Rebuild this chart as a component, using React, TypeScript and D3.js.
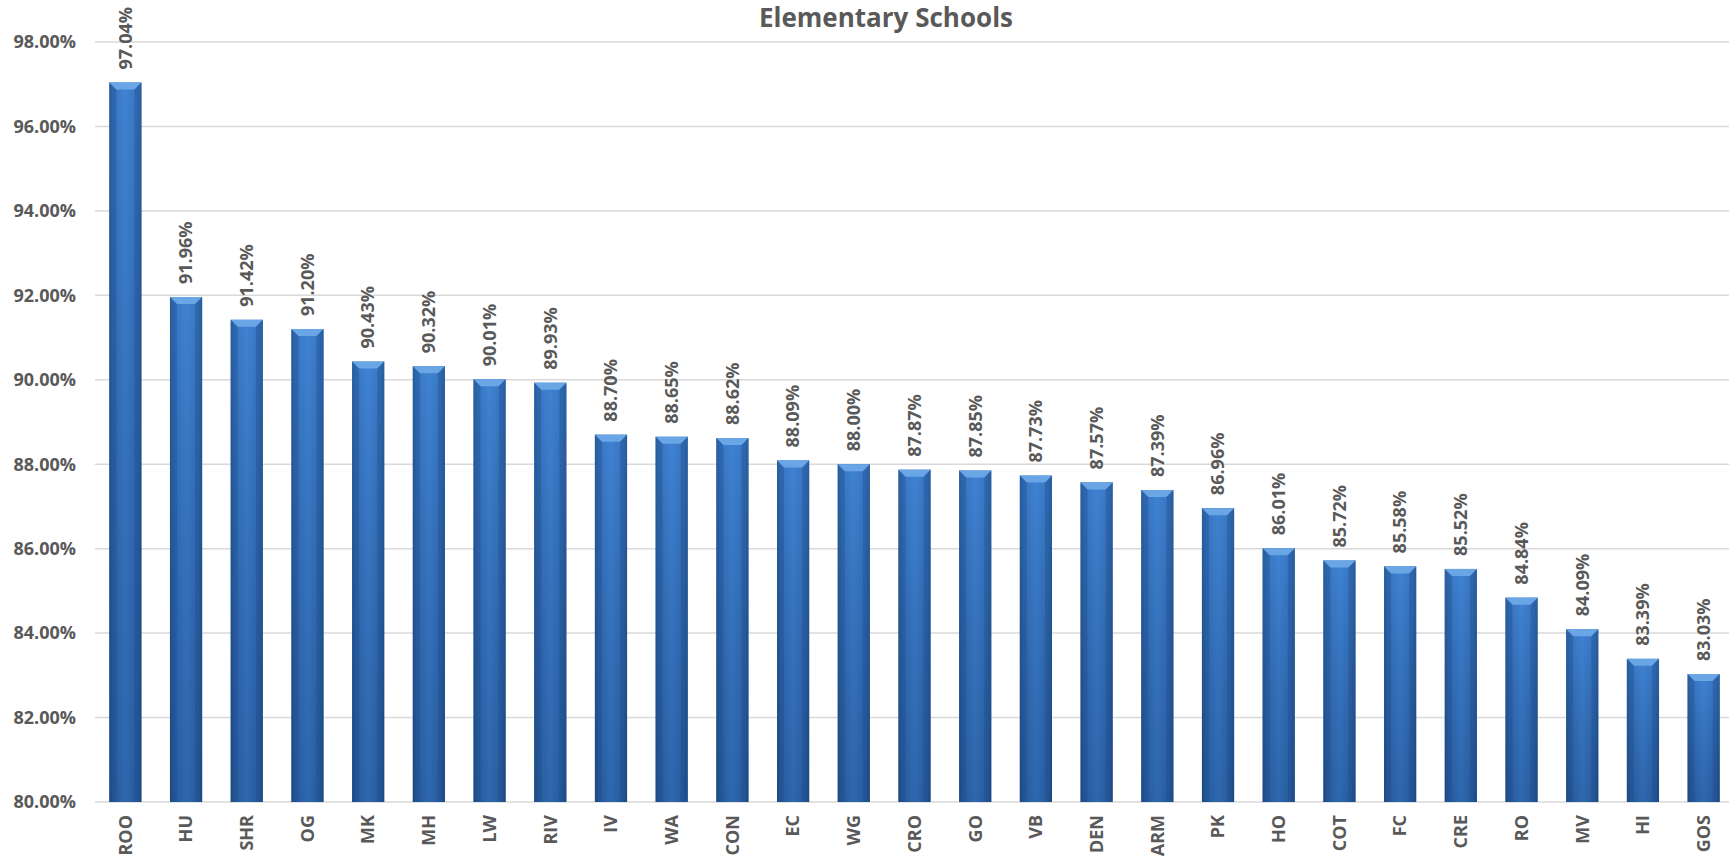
import React from "react";
import * as d3 from "d3";

const schools = ["ROO","HU","SHR","OG","MK","MH","LW","RIV","IV","WA","CON","EC","WG","CRO","GO","VB","DEN","ARM","PK","HO","COT","FC","CRE","RO","MV","HI","GOS"];
const rates = [97.04,91.96,91.42,91.20,90.43,90.32,90.01,89.93,88.70,88.65,88.62,88.09,88.00,87.87,87.85,87.73,87.57,87.39,86.96,86.01,85.72,85.58,85.52,84.84,84.09,83.39,83.03];
const yTicks = [80,82,84,86,88,90,92,94,96,98];
const title = "Elementary Schools";

const W = 1729, H = 859;
const left = 95, right = 1734, top = 42, bottom = 802;
const FONT = "'Open Sans', 'Liberation Sans', sans-serif";
const GREY = "#595959";
const FS = 18;

export default function App() {
  const x = d3.scaleBand<string>().domain(schools).range([left, right]).paddingInner(0.47).paddingOuter(0.235);
  const y = d3.scaleLinear().domain([80, 98]).range([bottom, top]);
  const bw = x.bandwidth();
  const bevel = 7;
  return (
    <svg width={W} height={H} style={{ position: "absolute", left: 0, top: 0, display: "block" }}>
      <defs>
        <linearGradient id="hGrad" x1="0" x2="1" y1="0" y2="0">
          <stop offset="0" stopColor="#22518e" />
          <stop offset="0.12" stopColor="#2f68b3" />
          <stop offset="0.5" stopColor="#3a7ccb" />
          <stop offset="0.88" stopColor="#2f68b3" />
          <stop offset="1" stopColor="#22518e" />
        </linearGradient>
        <linearGradient id="vShade" x1="0" x2="0" y1="0" y2="1">
          <stop offset="0" stopColor="#4a90e0" stopOpacity="0.35" />
          <stop offset="1" stopColor="#0d2a55" stopOpacity="0.25" />
        </linearGradient>
      </defs>
      <rect x={0} y={0} width={W} height={H} fill="#fff" />
      <text x={886} y={27} textAnchor="middle" fontFamily={FONT} fontWeight="bold" fontSize={26} fill={GREY}>{title}</text>
      {yTicks.map((t) => (
        <g key={t}>
          <line x1={left} x2={W} y1={y(t)} y2={y(t)} stroke="#d9d9d9" strokeWidth={1.5} />
          <text x={76} y={y(t)} dy="0.35em" textAnchor="end" fontFamily={FONT} fontWeight="bold" fontSize={FS} fill={GREY}>
            {d3.format(".2f")(t)}%
          </text>
        </g>
      ))}
      {schools.map((s, i) => {
        const bx = x(s)!;
        const by = y(rates[i]);
        const h = bottom - by;
        const cx = bx + bw / 2;
        return (
          <g key={s}>
            <rect x={bx} y={by} width={bw} height={h} fill="url(#hGrad)" />
            <rect x={bx} y={by} width={bw} height={h} fill="url(#vShade)" />
            <path d={`M${bx},${by}L${bx + bw},${by}L${bx + bw - bevel},${by + bevel}L${bx + bevel},${by + bevel}Z`} fill="#6aa5e6" />
            <path d={`M${bx},${by}L${bx + bevel},${by + bevel}L${bx + bevel},${bottom}L${bx},${bottom}Z`} fill="#1e4a85" opacity={0.35} />
            <path d={`M${bx + bw},${by}L${bx + bw - bevel},${by + bevel}L${bx + bw - bevel},${bottom}L${bx + bw},${bottom}Z`} fill="#1e4a85" opacity={0.35} />
            <text transform={`translate(${cx},${by - 13}) rotate(-90)`} dy="0.35em" textAnchor="start" fontFamily={FONT} fontWeight="bold" fontSize={FS} fill={GREY}>
              {d3.format(".2f")(rates[i])}%
            </text>
            <text transform={`translate(${cx},${bottom + 13}) rotate(-90)`} dy="0.35em" textAnchor="end" fontFamily={FONT} fontWeight="bold" fontSize={FS} fill={GREY}>
              {s}
            </text>
          </g>
        );
      })}
    </svg>
  );
}
